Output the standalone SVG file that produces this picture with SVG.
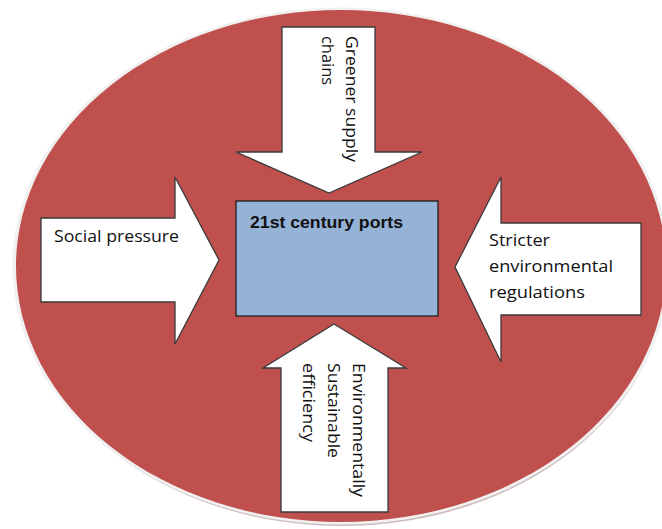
<svg xmlns="http://www.w3.org/2000/svg" width="662" height="529" viewBox="0 0 662 529">
  <style>
    .arrow { fill: #ffffff; stroke: #3a3a3a; stroke-width: 1.3; stroke-linejoin: miter; }
    .lbl { font-family: "Open Sans", "Liberation Sans", Arial, sans-serif; font-size: 16px; fill: #111111; }
    .title { font-family: "Liberation Sans", Arial, sans-serif; font-size: 17px; font-weight: bold; fill: #111111; }
  </style>
  <rect width="662" height="529" fill="#ffffff"/>

  <!-- outer ellipse with soft halo and drop shadow -->
  <g id="background">
    <ellipse cx="342" cy="269" rx="326" ry="257" fill="#cdbcbc"/>
    <ellipse cx="341" cy="266" rx="328.5" ry="258.5" fill="#f1f1f1"/>
    <ellipse cx="341" cy="266" rx="325" ry="256" fill="#c0504d"/>
  </g>

  <g id="connectors">
    <!-- top arrow: pointing down -->
    <g id="arrow-top">
      <polygon class="arrow" points="282,27 375,27 375,152 422,152 329,193 236,152 282,152"/>
      <g transform="translate(346,36) rotate(90)">
        <text class="lbl" x="0" y="0" textLength="126" lengthAdjust="spacingAndGlyphs">Greener supply</text>
        <text class="lbl" x="0" y="24" textLength="49" lengthAdjust="spacingAndGlyphs">chains</text>
      </g>
    </g>
    <!-- left arrow: pointing right -->
    <g id="arrow-left">
      <polygon class="arrow" points="41,218 175,218 175,177 219,260 175,344 175,302 41,302"/>
      <text class="lbl" x="54" y="242" textLength="125" lengthAdjust="spacingAndGlyphs">Social pressure</text>
    </g>
    <!-- right arrow: pointing left -->
    <g id="arrow-right">
      <polygon class="arrow" points="641,223 501,223 501,177 455,267 501,362 501,315 641,315"/>
      <text class="lbl" x="489" y="246" textLength="61" lengthAdjust="spacingAndGlyphs">Stricter</text>
      <text class="lbl" x="489" y="272" textLength="124" lengthAdjust="spacingAndGlyphs">environmental</text>
      <text class="lbl" x="489" y="298" textLength="96" lengthAdjust="spacingAndGlyphs">regulations</text>
    </g>
    <!-- bottom arrow: pointing up -->
    <g id="arrow-bottom">
      <polygon class="arrow" points="334,324 406,368 388,368 388,512 281,512 281,368 263,368"/>
      <g transform="translate(353,363) rotate(90)">
        <text class="lbl" x="0" y="0" textLength="134" lengthAdjust="spacingAndGlyphs">Environmentally</text>
        <text class="lbl" x="0" y="25" textLength="95" lengthAdjust="spacingAndGlyphs">Sustainable</text>
        <text class="lbl" x="0" y="50" textLength="79" lengthAdjust="spacingAndGlyphs">efficiency</text>
      </g>
    </g>
  </g>

  <!-- central node -->
  <g id="ports">
    <rect x="236" y="201" width="202" height="115" fill="#95b3d7" stroke="#1e1e1e" stroke-width="1.3"/>
    <text class="title" x="250" y="228" textLength="153" lengthAdjust="spacingAndGlyphs">21st century ports</text>
  </g>
</svg>
